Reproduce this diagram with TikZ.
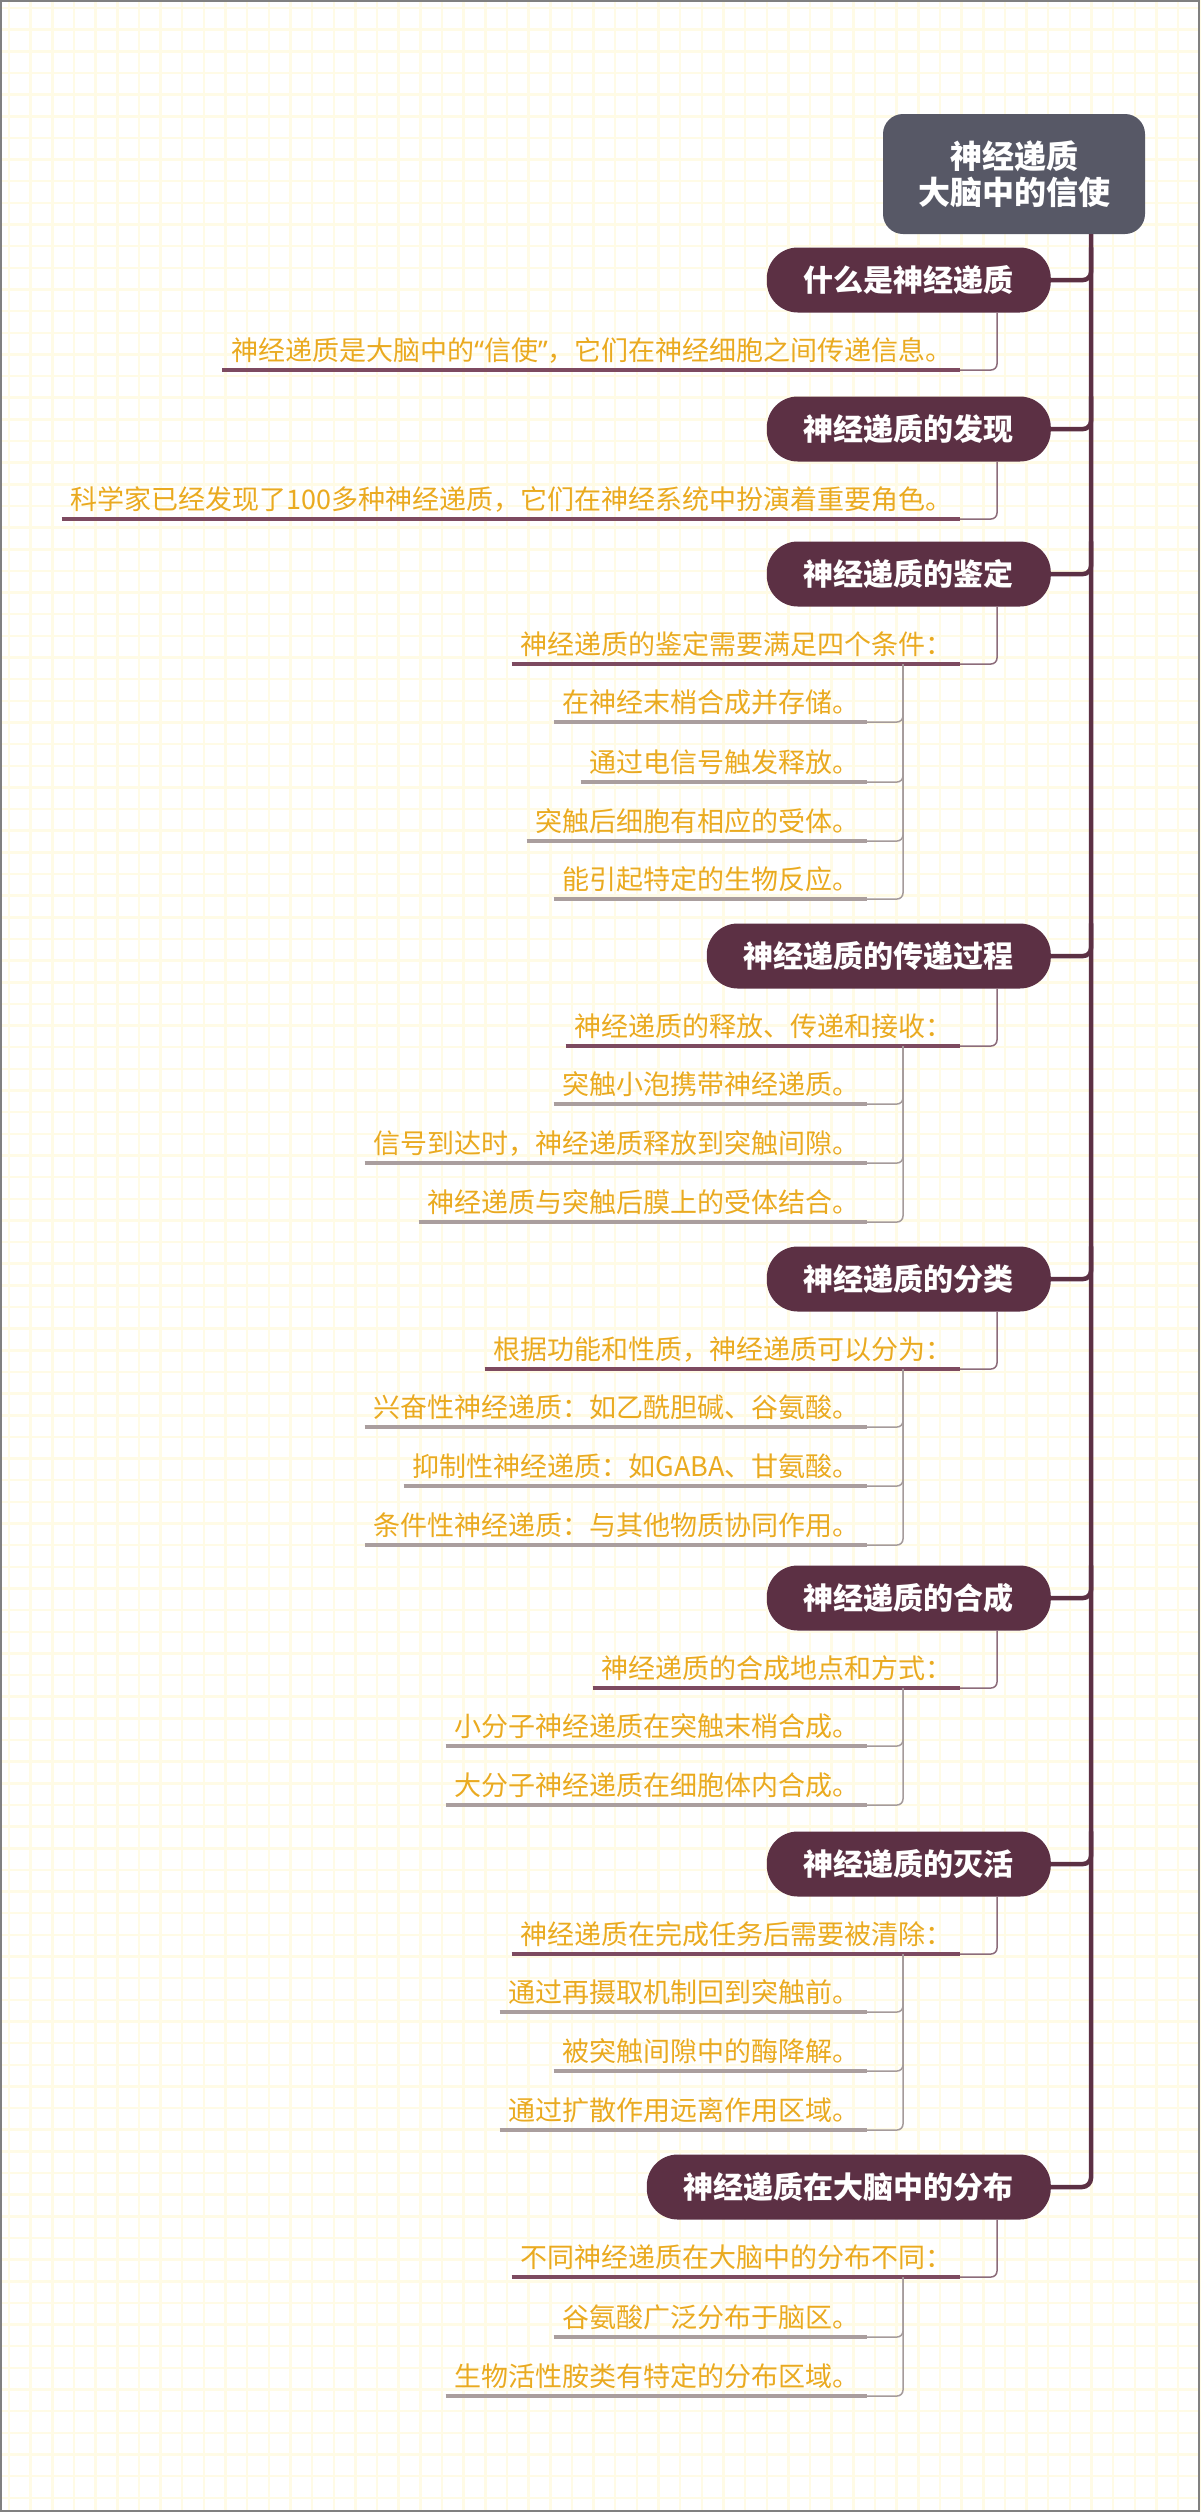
\documentclass[tikz,border=0pt]{standalone}
\usepackage{fontspec}
\setmainfont{Noto Sans CJK SC}
\newfontfamily\latq{Noto Sans}
\usetikzlibrary{calc}
\definecolor{rootc}{RGB}{87,88,102}
\definecolor{maroon}{RGB}{92,48,68}
\definecolor{gold}{RGB}{234,170,32}
\definecolor{ulA}{RGB}{125,74,96}
\definecolor{ulB}{RGB}{170,158,158}
\definecolor{lnA}{RGB}{140,108,122}
\definecolor{lnB}{RGB}{165,155,155}
\definecolor{gridc}{RGB}{255,251,230}
\definecolor{framec}{RGB}{128,128,128}
\tikzset{
  rootbox/.style={fill=rootc, rounded corners=20, minimum width=262, minimum height=120,
    align=center, text=white, font=\bfseries\fontsize{32}{36}\selectfont, inner sep=0},
  l1box/.style={fill=maroon, rounded corners=31, minimum height=65, inner xsep=37, inner ysep=0,
    anchor=east, text=white, font=\bfseries\fontsize{30}{34}\selectfont},
  leaftext/.style={anchor=base east, inner sep=0, text=gold, font=\fontsize{27}{30}\selectfont},
  trunk/.style={draw=maroon, line width=4.5},
  ulineA/.style={draw=ulA, line width=4},
  ulineB/.style={draw=ulB, line width=4},
  connA/.style={draw=lnA, line width=1.5, rounded corners=6},
  connB/.style={draw=lnB, line width=1.5, rounded corners=6},
  gridline/.style={draw=gridc, line width=2.5}
}
\newcommand\leafitem[5]{%
  \node[leaftext] (#1) at (#2-7,#3-10) {#5};
  \coordinate (#1e) at (#2,#3);
  \path ($(#1.west)+(-9,0)$) coordinate (#1s);
  \draw[#4] (#1s |- #1e) -- (#1e);
}
\begin{document}
\begin{tikzpicture}[x=1pt,y=-1pt]
\useasboundingbox (0,0) rectangle (1200,2512);
\fill[white] (0,0) rectangle (1200,2512);
\foreach \i in {0,...,55} \draw[gridline] (9+\i*21.65,0) -- (9+\i*21.65,2512);
\foreach \i in {0,...,116} \draw[gridline] (0,8+\i*21.65) -- (1200,8+\i*21.65);
\draw[framec, line width=2] (1,1) rectangle (1199,2511);

% root and trunk
\node[rootbox] (root) at (1014,174) {神经递质\\大脑中的信使};
\coordinate (trk) at (1091,0);
\coordinate (va) at (997,0);
\coordinate (vb) at (903,0);

% level 1
\node[l1box] (n1) at (1051,280) {什么是神经递质};
\node[l1box] (n2) at (1051,429) {神经递质的发现};
\node[l1box] (n3) at (1051,574) {神经递质的鉴定};
\node[l1box] (n4) at (1051,956) {神经递质的传递过程};
\node[l1box] (n5) at (1051,1279) {神经递质的分类};
\node[l1box] (n6) at (1051,1598) {神经递质的合成};
\node[l1box] (n7) at (1051,1864) {神经递质的灭活};
\node[l1box] (n8) at (1051,2187) {神经递质在大脑中的分布};

\draw[trunk, rounded corners=9] (root.south -| trk) |- (n8.east);
\foreach \n in {n1,n2,n3,n4,n5,n6,n7}
  \draw[trunk, rounded corners=8] (\n.north -| trk) |- (\n.east);

% level 2 and 3
\leafitem{c1}{960}{370}{ulineA}{神经递质是大脑中的{\latq “}信使{\latq ”}，它们在神经细胞之间传递信息。}
\leafitem{c2}{960}{519}{ulineA}{科学家已经发现了100多种神经递质，它们在神经系统中扮演着重要角色。}

\leafitem{c3}{960}{664}{ulineA}{神经递质的鉴定需要满足四个条件：}
\leafitem{c3a}{867}{722}{ulineB}{在神经末梢合成并存储。}
\leafitem{c3b}{867}{782}{ulineB}{通过电信号触发释放。}
\leafitem{c3c}{867}{841}{ulineB}{突触后细胞有相应的受体。}
\leafitem{c3d}{867}{899}{ulineB}{能引起特定的生物反应。}

\leafitem{c4}{960}{1046}{ulineA}{神经递质的释放、传递和接收：}
\leafitem{c4a}{867}{1104}{ulineB}{突触小泡携带神经递质。}
\leafitem{c4b}{867}{1163}{ulineB}{信号到达时，神经递质释放到突触间隙。}
\leafitem{c4c}{867}{1222}{ulineB}{神经递质与突触后膜上的受体结合。}

\leafitem{c5}{960}{1369}{ulineA}{根据功能和性质，神经递质可以分为：}
\leafitem{c5a}{867}{1427}{ulineB}{兴奋性神经递质：如乙酰胆碱、谷氨酸。}
\leafitem{c5b}{867}{1486}{ulineB}{抑制性神经递质：如GABA、甘氨酸。}
\leafitem{c5c}{867}{1545}{ulineB}{条件性神经递质：与其他物质协同作用。}

\leafitem{c6}{960}{1688}{ulineA}{神经递质的合成地点和方式：}
\leafitem{c6a}{867}{1746}{ulineB}{小分子神经递质在突触末梢合成。}
\leafitem{c6b}{867}{1805}{ulineB}{大分子神经递质在细胞体内合成。}

\leafitem{c7}{960}{1954}{ulineA}{神经递质在完成任务后需要被清除：}
\leafitem{c7a}{867}{2012}{ulineB}{通过再摄取机制回到突触前。}
\leafitem{c7b}{867}{2071}{ulineB}{被突触间隙中的酶降解。}
\leafitem{c7c}{867}{2130}{ulineB}{通过扩散作用远离作用区域。}

\leafitem{c8}{960}{2277}{ulineA}{不同神经递质在大脑中的分布不同：}
\leafitem{c8a}{867}{2337}{ulineB}{谷氨酸广泛分布于脑区。}
\leafitem{c8b}{867}{2396}{ulineB}{生物活性胺类有特定的分布区域。}

% level1 -> level2 connectors
\draw[connA] (n1.south -| va) |- (c1e);
\draw[connA] (n2.south -| va) |- (c2e);
\draw[connA] (n3.south -| va) |- (c3e);
\draw[connA] (n4.south -| va) |- (c4e);
\draw[connA] (n5.south -| va) |- (c5e);
\draw[connA] (n6.south -| va) |- (c6e);
\draw[connA] (n7.south -| va) |- (c7e);
\draw[connA] (n8.south -| va) |- (c8e);

% level2 -> level3 connectors
\foreach \p/\c in {c3/c3a,c3/c3b,c3/c3c,c3/c3d,c4/c4a,c4/c4b,c4/c4c,c5/c5a,c5/c5b,c5/c5c,c6/c6a,c6/c6b,c7/c7a,c7/c7b,c7/c7c,c8/c8a,c8/c8b}
  \draw[connB] (\p e -| vb) |- (\c e);
\end{tikzpicture}
\end{document}
